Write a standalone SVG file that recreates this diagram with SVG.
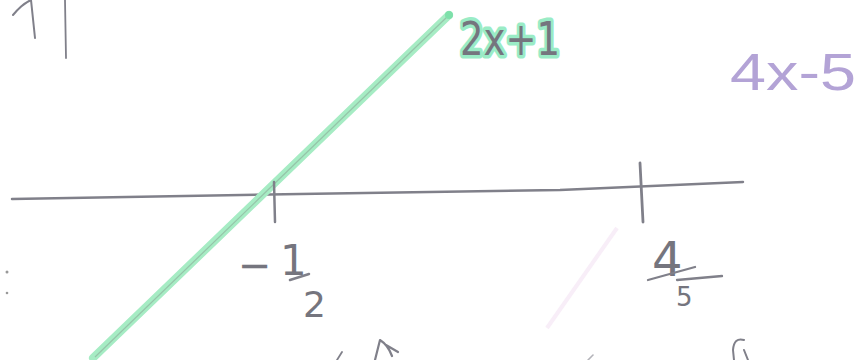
<svg xmlns="http://www.w3.org/2000/svg" width="859" height="360" viewBox="0 0 859 360">
<style>
.pencil{fill:none;stroke:#80808a;stroke-linecap:round;stroke-linejoin:round}
.hand{font-family:"DejaVu Sans","Liberation Sans",sans-serif;fill:#75757e}
</style>
<rect width="859" height="360" fill="#ffffff"/>
<!-- top-left cut-off marks -->
<path class="pencil" d="M13 15 Q22 4 31 0 L35 38" stroke-width="2"/>
<path class="pencil" d="M65 0 L66 58" stroke-width="1.8"/>
<!-- left edge dots -->
<circle cx="7" cy="272" r="1.5" fill="#999"/>
<circle cx="7" cy="293" r="1.3" fill="#999"/>
<!-- axis -->
<g id="axis">
<path class="pencil" d="M12 199 L300 194 L560 190 L743 182" stroke="#9a9aa6" stroke-width="2.5"/>
</g>
<!-- faint pink line -->
<path d="M617 228 L547 328" stroke="#f8eef8" stroke-width="4" fill="none"/>
<!-- green line 2x+1 -->
<g id="line-2x1">
<path d="M93 358 L449 15" stroke="#a6ecc4" stroke-width="8" stroke-linecap="round" fill="none"/>
<path d="M95 357 L447 17" stroke="#8aa896" stroke-width="1.2" fill="none" opacity="0.6"/>
<circle cx="449" cy="15" r="4" fill="#7ee0aa"/>
</g>
<!-- ticks -->
<g id="tick-neg-half">
<path class="pencil" d="M274 182 L275 222" stroke-width="2.5"/>
</g>
<g id="tick-four-fifths">
<path class="pencil" d="M640 163 L643 222" stroke-width="2.8"/>
</g>
<!-- labels -->
<g id="label-2x1">
<text x="460" y="55" class="hand" font-size="46" textLength="100" lengthAdjust="spacingAndGlyphs" stroke="#9aecc6" stroke-width="7" stroke-linejoin="round" paint-order="stroke" fill="#74807a">2x+1</text>
</g>
<g id="label-4x5">
<text x="730" y="90" font-family="Liberation Sans, sans-serif" font-size="52" textLength="126" lengthAdjust="spacingAndGlyphs" fill="#b3a3d6">4x-5</text>
</g>
<g id="label-neg-half">
<text x="238" y="279" class="hand" font-size="40">−</text>
<text x="280" y="275" class="hand" font-size="42">1</text>
<path class="pencil" d="M290 280 L309 274" stroke-width="2.5"/>
<text x="303" y="317" class="hand" font-size="36">2</text>
</g>
<g id="label-four-fifths">
<text x="652" y="276" class="hand" font-size="48">4</text>
<path class="pencil" d="M648 280 L695 267 M677 280 L722 276" stroke-width="2.3"/>
<text x="676" y="306" class="hand" font-size="26">5</text>
</g>
<!-- cut-off marks at bottom -->
<path class="pencil" d="M337 360 L342 352" stroke-width="1.8"/>
<path class="pencil" d="M375 360 L380 340 Q388 345 392 356 M386 345 L398 352" stroke-width="2.2"/>
<path class="pencil" d="M588 360 L593 355" stroke-width="1.6" opacity="0.6"/>
<path class="pencil" d="M744 340 Q734 337 733 350 L734 360 M744 350 L748 360" stroke-width="2"/>
</svg>
